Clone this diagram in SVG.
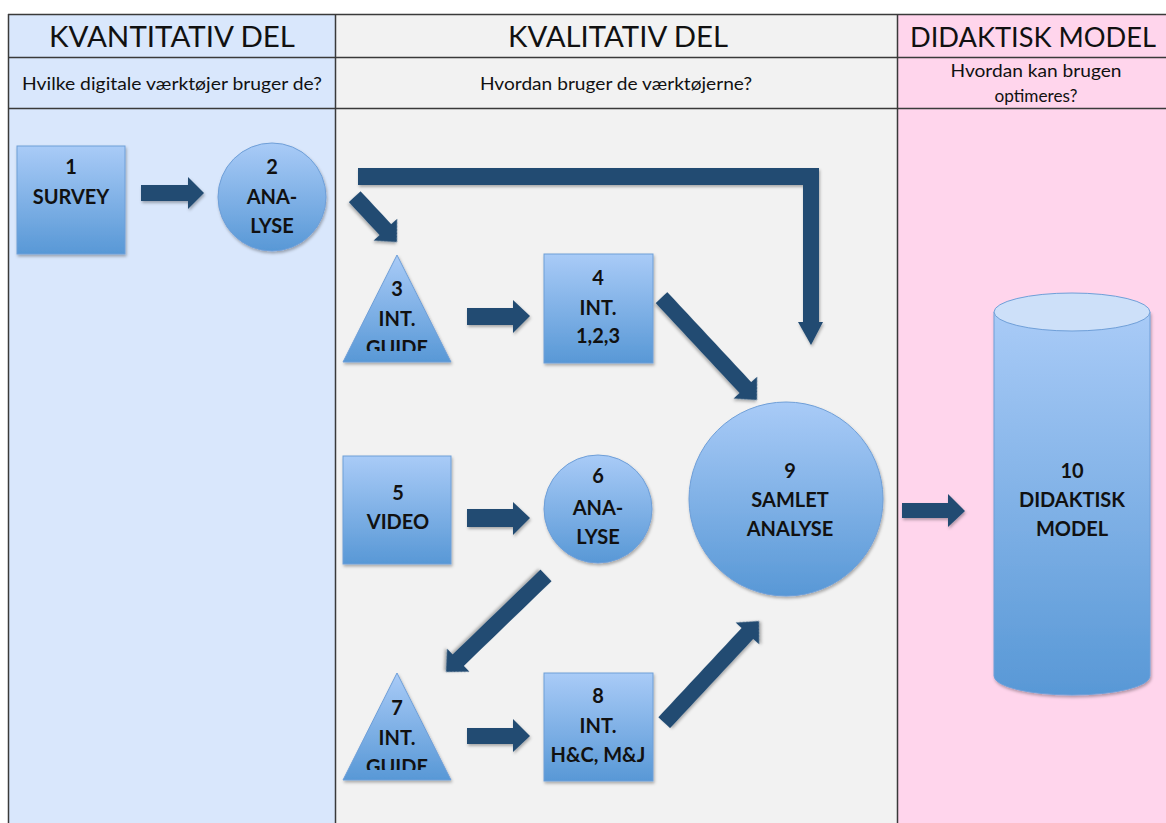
<svg xmlns="http://www.w3.org/2000/svg" width="1166" height="823" viewBox="0 0 1166 823">
  <defs>
    <linearGradient id="nodeFill" x1="0" y1="0" x2="0" y2="1">
      <stop offset="0" stop-color="#a9cbf7"/>
      <stop offset="1" stop-color="#5898d6"/>
    </linearGradient>
    <filter id="shadow" x="-20%" y="-20%" width="140%" height="140%">
      <feDropShadow dx="1" dy="2" stdDeviation="1.5" flood-color="#000" flood-opacity="0.3"/>
    </filter>
    <clipPath id="clip3"><rect x="330" y="250" width="130" height="101"/></clipPath>
    <clipPath id="clip7"><rect x="330" y="668" width="130" height="102"/></clipPath>
    <style>
      .grid { stroke: #3a3a3a; stroke-width: 1.5; fill: none; }
      .hdr { font-family: Lato, "Open Sans", sans-serif; font-size: 29px; fill: #111; text-anchor: middle; }
      .hdr-r { font-size: 27px; }
      .sub { font-family: Lato, "Open Sans", sans-serif; font-size: 17.5px; fill: #111; text-anchor: middle; }
      .shape { fill: url(#nodeFill); stroke: #6f9fd8; stroke-width: 1; filter: url(#shadow); }
      .lbl { font-family: Lato, "Open Sans", sans-serif; font-weight: bold; font-size: 20px; fill: #111; text-anchor: middle; }
      .arrow { fill: #224b72; filter: url(#shadow); }
    </style>
  </defs>

  <!-- column backgrounds -->
  <rect x="8" y="14" width="327" height="809" fill="#d9e7fc"/>
  <rect x="335" y="14" width="562" height="809" fill="#f2f2f2"/>
  <rect x="897" y="14" width="269" height="809" fill="#ffd5ec"/>

  <!-- table rules -->
  <g class="grid">
    <line x1="8" y1="14.5" x2="1166" y2="14.5"/>
    <line x1="8" y1="57.5" x2="1166" y2="57.5"/>
    <line x1="8" y1="108.5" x2="1166" y2="108.5"/>
    <line x1="8.5" y1="14" x2="8.5" y2="823"/>
    <line x1="335.5" y1="14" x2="335.5" y2="823"/>
    <line x1="897.5" y1="14" x2="897.5" y2="823"/>
  </g>

  <!-- column headings -->
  <text class="hdr" x="172" y="47" textLength="246" lengthAdjust="spacingAndGlyphs">KVANTITATIV DEL</text>
  <text class="hdr" x="618" y="47" textLength="220" lengthAdjust="spacingAndGlyphs">KVALITATIV DEL</text>
  <text class="hdr hdr-r" x="1033" y="47" textLength="246" lengthAdjust="spacingAndGlyphs">DIDAKTISK MODEL</text>
  <text class="sub" x="172" y="90" textLength="300" lengthAdjust="spacingAndGlyphs">Hvilke digitale værktøjer bruger de?</text>
  <text class="sub" x="616" y="90" textLength="272" lengthAdjust="spacingAndGlyphs">Hvordan bruger de værktøjerne?</text>
  <text class="sub" x="1036" y="77" textLength="171" lengthAdjust="spacingAndGlyphs">Hvordan kan brugen</text>
  <text class="sub" x="1036" y="102" textLength="83" lengthAdjust="spacingAndGlyphs">optimeres?</text>

  <!-- connectors -->
  <g id="connectors">
    <polygon class="arrow" points="141,185 188,185 188,177 204,193 188,209 188,201 141,201"/>
    <polygon class="arrow" points="358,168 819,168 819,322 823,322 811,345 798,322 803,322 803,185 358,185"/>
    <polygon class="arrow" transform="translate(354.7,196.7) rotate(47)" points="0,-8 45,-8 45,-16 62,0 45,16 45,8 0,8"/>
    <polygon class="arrow" points="467,308 513,308 513,300 530,316 513,333 513,325 467,325"/>
    <polygon class="arrow" transform="translate(661.5,297.6) rotate(47)" points="0,-8 123,-8 123,-16 140,0 123,16 123,8 0,8"/>
    <polygon class="arrow" points="467,509 513,509 513,502 530,518 513,535 513,527 467,527"/>
    <polygon class="arrow" transform="translate(546,575.4) rotate(136)" points="0,-8 122,-8 122,-16 139,0 122,16 122,8 0,8"/>
    <polygon class="arrow" points="467,728 513,728 513,719 530,736 513,752 513,744 467,744"/>
    <polygon class="arrow" transform="translate(664.2,722.7) rotate(-47)" points="0,-8 122,-8 122,-16 139,0 122,16 122,8 0,8"/>
    <polygon class="arrow" points="902,503 948,503 948,494 965,511 948,527 948,518 902,518"/>
  </g>

  <!-- nodes -->
  <g id="node1">
    <rect class="shape" x="17" y="146" width="108" height="108"/>
    <text class="lbl" x="71" y="174">1</text>
    <text class="lbl" x="71" y="204">SURVEY</text>
  </g>
  <g id="node2">
    <circle class="shape" cx="272" cy="197" r="54"/>
    <text class="lbl" x="272" y="174">2</text>
    <text class="lbl" x="272" y="204">ANA-</text>
    <text class="lbl" x="272" y="233">LYSE</text>
  </g>
  <g id="node3">
    <polygon class="shape" points="397,255 451,362 343,362"/>
    <g clip-path="url(#clip3)">
      <text class="lbl" x="397" y="296">3</text>
      <text class="lbl" x="397" y="326">INT.</text>
      <text class="lbl" x="397" y="355">GUIDE</text>
    </g>
  </g>
  <g id="node4">
    <rect class="shape" x="544" y="254" width="109" height="109"/>
    <text class="lbl" x="598" y="285">4</text>
    <text class="lbl" x="598" y="315">INT.</text>
    <text class="lbl" x="598" y="343">1,2,3</text>
  </g>
  <g id="node5">
    <rect class="shape" x="343" y="456" width="108" height="108"/>
    <text class="lbl" x="398" y="500">5</text>
    <text class="lbl" x="398" y="529">VIDEO</text>
  </g>
  <g id="node6">
    <circle class="shape" cx="598" cy="509" r="54"/>
    <text class="lbl" x="598" y="483">6</text>
    <text class="lbl" x="598" y="515">ANA-</text>
    <text class="lbl" x="598" y="544">LYSE</text>
  </g>
  <g id="node7">
    <polygon class="shape" points="397,673 451,780 343,780"/>
    <g clip-path="url(#clip7)">
      <text class="lbl" x="397" y="715">7</text>
      <text class="lbl" x="397" y="745">INT.</text>
      <text class="lbl" x="397" y="774">GUIDE</text>
    </g>
  </g>
  <g id="node8">
    <rect class="shape" x="544" y="673" width="109" height="108"/>
    <text class="lbl" x="598" y="703">8</text>
    <text class="lbl" x="598" y="733">INT.</text>
    <text class="lbl" x="598" y="762">H&amp;C, M&amp;J</text>
  </g>
  <g id="node9">
    <circle class="shape" cx="786" cy="499" r="97"/>
    <text class="lbl" x="790" y="478">9</text>
    <text class="lbl" x="790" y="507">SAMLET</text>
    <text class="lbl" x="790" y="536">ANALYSE</text>
  </g>
  <g id="node10">
    <path class="shape" d="M994,312 L994,676 A78,19 0 0 0 1150,676 L1150,312 Z"/>
    <ellipse cx="1072" cy="312" rx="78" ry="19" fill="#cde0f9" stroke="#6f9fd8" stroke-width="1"/>
    <text class="lbl" x="1072" y="478">10</text>
    <text class="lbl" x="1072" y="507">DIDAKTISK</text>
    <text class="lbl" x="1072" y="536">MODEL</text>
  </g>
</svg>
